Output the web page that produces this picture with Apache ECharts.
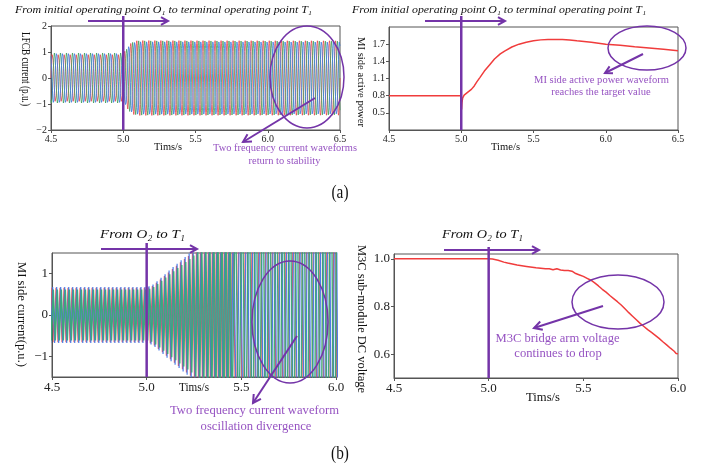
<!DOCTYPE html>
<html><head><meta charset="utf-8">
<script src="https://cdn.jsdelivr.net/npm/echarts@6/dist/echarts.min.js"></script>
<style>html,body{margin:0;padding:0;background:#fff}#c{width:705px;height:466px}</style>
</head><body><div id="c"></div>
<script>
// ---------------- DATA ----------------
const xTicksA = [4.5, 5.0, 5.5, 6.0, 6.5];
const xTicksB = [4.5, 5.0, 5.5, 6.0];
const yTicksLfcb = [-2, -1, 0, 1, 2];
const yTicksPower = [0.5, 0.8, 1.1, 1.4, 1.7];
const yTicksMi = [-1, 0, 1];
const yTicksM3c = [0.6, 0.8, 1.0];

// (a) left: LFCB three-phase current, peak envelope (p.u.) and frequency
const lfcbEnvT = [4.5, 5.0, 5.02, 5.04, 5.07, 5.10, 6.5];
const lfcbEnvA = [0.97, 0.97, 1.08, 1.28, 1.40, 1.44, 1.43];
const lfcbFreqHz = 24;
const lfcbPhaseDeg = [0, -120, 120];           // red, green, blue

// (a) right: MI side active power
const powerT = [4.5, 4.998, 5.0, 5.002, 5.005, 5.01, 5.02, 5.03, 5.05, 5.07, 5.09, 5.11, 5.13, 5.16, 5.2, 5.23, 5.27, 5.3, 5.35, 5.4, 5.45, 5.5, 5.55, 5.6, 5.65, 5.7, 5.75, 5.8, 5.9, 6.0, 6.1, 6.2, 6.3, 6.4, 6.5];
const powerV = [0.8, 0.8, 0.7, 0.56, 0.68, 0.76, 0.81, 0.84, 0.87, 0.91, 0.97, 1.05, 1.12, 1.23, 1.35, 1.44, 1.53, 1.58, 1.65, 1.70, 1.735, 1.76, 1.775, 1.782, 1.783, 1.78, 1.773, 1.76, 1.735, 1.70, 1.68, 1.655, 1.635, 1.61, 1.585];

// (b) left: MI side current, peak envelope (p.u.) and apparent sample spacing
const miEnvT = [4.5, 5.0, 5.03, 5.07, 5.12, 5.18, 5.24, 5.3, 5.45, 5.55, 6.0];
const miEnvA = [0.66, 0.66, 0.70, 0.85, 1.05, 1.28, 1.50, 1.8, 3.0, 5.0, 6.0];
const miStepT = [4.5, 5.45];
const miStepS = [0.0106, 0.018];
const miPhaseGain = [1.0, 1.03, 0.93];         // red, blue, green

// (b) right: M3C sub-module DC voltage
const m3cT = [4.5, 5.0, 5.02, 5.05, 5.08, 5.1, 5.15, 5.2, 5.25, 5.3, 5.31, 5.32, 5.33, 5.34, 5.35, 5.36, 5.37, 5.38, 5.39, 5.40, 5.41, 5.42, 5.43, 5.44, 5.45, 5.46, 5.47, 5.48, 5.49, 5.50, 5.51, 5.52, 5.53, 5.54, 5.55, 5.56, 5.57, 5.58, 5.59, 5.60, 5.61, 5.62, 5.63, 5.64, 5.65, 5.66, 5.67, 5.68, 5.69, 5.70, 5.71, 5.72, 5.73, 5.74, 5.75, 5.76, 5.77, 5.78, 5.79, 5.80, 5.81, 5.82, 5.83, 5.84, 5.85, 5.86, 5.87, 5.88, 5.89, 5.90, 5.91, 5.92, 5.93, 5.94, 5.95, 5.96, 5.97, 5.98, 5.99, 6.00];
const m3cV = [1.0, 1.0, 0.999, 0.994, 0.986, 0.982, 0.974, 0.968, 0.962, 0.958, 0.957, 0.958, 0.955, 0.954, 0.957, 0.958, 0.956, 0.953, 0.955, 0.951, 0.948, 0.951, 0.945, 0.948, 0.942, 0.938, 0.941, 0.932, 0.934, 0.926, 0.928, 0.918, 0.919, 0.910, 0.909, 0.899, 0.898, 0.886, 0.884, 0.872, 0.869, 0.860, 0.855, 0.846, 0.840, 0.833, 0.827, 0.820, 0.812, 0.806, 0.800, 0.790, 0.785, 0.774, 0.771, 0.759, 0.757, 0.744, 0.741, 0.729, 0.727, 0.716, 0.712, 0.703, 0.700, 0.691, 0.688, 0.679, 0.677, 0.666, 0.664, 0.652, 0.650, 0.639, 0.637, 0.625, 0.623, 0.612, 0.603, 0.602];

// ---------------- BUILD ----------------
function interp(ts, vs, t) {
  if (t <= ts[0]) return vs[0];
  for (let i = 1; i < ts.length; i++) {
    if (t <= ts[i]) return vs[i - 1] + (vs[i] - vs[i - 1]) * (t - ts[i - 1]) / (ts[i] - ts[i - 1]);
  }
  return vs[vs.length - 1];
}
function stepAt(t) { let s = miStepS[0]; for (let i = 0; i < miStepT.length; i++) if (t >= miStepT[i]) s = miStepS[i]; return s; }
function zip(a, b) { return a.map((v, i) => [v, b[i]]); }

function lfcbPhase(p) {
  const out = [], dt = 1 / (lfcbFreqHz * 16);
  for (let t = 4.5; t <= 6.5 + 1e-9; t += dt) {
    out.push([t, interp(lfcbEnvT, lfcbEnvA, t) * Math.sin(2 * Math.PI * lfcbFreqHz * t + lfcbPhaseDeg[p] * Math.PI / 180)]);
  }
  return out;
}
function miPhase(p) {
  const out = [];
  let t = 4.5 - stepAt(4.5) * (2 - p / 3), sign = 1;
  while (t < 6.05) {
    out.push([t, interp(miEnvT, miEnvA, t) * miPhaseGain[p] * sign]);
    t += stepAt(t); sign = -sign;
  }
  return out;
}

const SERIF = "'Liberation Serif', 'DejaVu Serif', serif";
const PURPLE = '#7434a8';
const TXTPURPLE = '#9653c2';
const AX = '#555';

function xAxisCfg(grid, max, fs) {
  return {
    type: 'value', gridIndex: grid, min: 4.5, max: max, interval: 0.5,
    axisLine: { show: true, onZero: false, lineStyle: { color: AX, width: 1 } },
    axisTick: { show: true, inside: false, length: 3, lineStyle: { color: AX } },
    axisLabel: { fontFamily: SERIF, fontSize: fs, color: '#222', margin: 4, formatter: v => v.toFixed(1) },
    splitLine: { show: false }
  };
}
function yAxisCfg(grid, min, max, ticks, fs, dec) {
  return {
    type: 'value', gridIndex: grid, min: min, max: max,
    axisLine: { show: true, onZero: false, lineStyle: { color: AX, width: 1 } },
    axisTick: { show: true, inside: false, length: 3, lineStyle: { color: AX }, customValues: ticks },
    axisLabel: { fontFamily: SERIF, fontSize: fs, color: '#222', margin: 4, customValues: ticks,
      formatter: v => v.toFixed(dec).replace('-', '\u2212') },
    splitLine: { show: false }
  };
}
function lineSeries(x, y, data, color, w, op) {
  return { type: 'line', xAxisIndex: x, yAxisIndex: y, data: data, showSymbol: false, symbol: 'none',
    animation: false, clip: true, lineStyle: { color: color, width: w, opacity: op }, z: 2 };
}

const chart = echarts.init(document.getElementById('c'), null, { renderer: 'canvas' });
const gridStyle = { show: true, borderColor: AX, borderWidth: 1, backgroundColor: 'transparent' };
chart.setOption({
  animation: false,
  backgroundColor: '#fff',
  grid: [
    Object.assign({ left: 51, top: 26, width: 289, height: 104 }, gridStyle),
    Object.assign({ left: 389, top: 27, width: 289, height: 103 }, gridStyle),
    Object.assign({ left: 52, top: 253, width: 284, height: 124 }, gridStyle),
    Object.assign({ left: 394, top: 254, width: 284, height: 124 }, gridStyle)
  ],
  xAxis: [
    xAxisCfg(0, xTicksA[xTicksA.length - 1], 10),
    xAxisCfg(1, xTicksA[xTicksA.length - 1], 10),
    xAxisCfg(2, xTicksB[xTicksB.length - 1], 13),
    xAxisCfg(3, xTicksB[xTicksB.length - 1], 13)
  ],
  yAxis: [
    yAxisCfg(0, -2, 2, yTicksLfcb, 10, 0),
    yAxisCfg(1, 0.2, 2.0, yTicksPower, 10, 1),
    yAxisCfg(2, -1.5, 1.5, yTicksMi, 13, 0),
    yAxisCfg(3, 0.5, 1.02, yTicksM3c, 13, 1)
  ],
  series: [
    lineSeries(0, 0, lfcbPhase(0), '#e8464b', 0.9, 0.9),
    lineSeries(0, 0, lfcbPhase(1), '#44a05c', 0.9, 0.9),
    lineSeries(0, 0, lfcbPhase(2), '#3b7be0', 0.9, 0.9),
    lineSeries(1, 1, zip(powerT, powerV), '#f03c3c', 1.5, 1),
    lineSeries(2, 2, miPhase(0), '#f04848', 1.2, 0.9),
    lineSeries(2, 2, miPhase(1), '#3d74e8', 1.2, 0.9),
    lineSeries(2, 2, miPhase(2), '#3aa878', 1.4, 0.95),
    lineSeries(3, 3, zip(m3cT, m3cV), '#f03c3c', 1.5, 1)
  ]
});

// ---------------- ANNOTATIONS ----------------
const mctx = document.createElement('canvas').getContext('2d');
function natWidth(text, style, fs) {
  mctx.font = style + ' ' + fs + 'px ' + SERIF;
  return mctx.measureText(text).width;
}
// text of font size fs; scaled along its direction to span 'len' px (or by factor sx)
function txt(str, cx, cy, fs, len, o) {
  o = o || {};
  const st = o.style || 'normal';
  const sx = o.sx || (len ? len / natWidth(str, st, fs) : 1);
  return { type: 'text', x: cx, y: cy, rotation: o.rot || 0, scaleX: sx, z: 100,
    style: { text: str, x: 0, y: 0, fontSize: fs, fontFamily: SERIF, fontStyle: st,
      fill: o.color || '#111', align: 'center', verticalAlign: 'middle', textAlign: 'center', textVerticalAlign: 'middle' } };
}
function arrow(x1, y1, x2, y2, w, h) {
  const a = Math.atan2(y2 - y1, x2 - x1), s = 0.5;
  return [
    { type: 'line', z: 100, shape: { x1: x1, y1: y1, x2: x2, y2: y2 }, style: { stroke: PURPLE, lineWidth: w } },
    { type: 'polyline', z: 100, shape: { points: [[x2 - h * Math.cos(a - s), y2 - h * Math.sin(a - s)], [x2, y2], [x2 - h * Math.cos(a + s), y2 - h * Math.sin(a + s)]] },
      style: { stroke: PURPLE, lineWidth: w, fill: null } }
  ];
}
function ell(cx, cy, rx, ry) {
  return { type: 'ellipse', z: 100, shape: { cx: cx, cy: cy, rx: rx, ry: ry }, style: { stroke: PURPLE, lineWidth: 1.5, fill: null } };
}
function vline(grid, yTop, yBot) {
  const x = chart.convertToPixel({ gridIndex: grid }, [5.0, 0])[0];
  return { type: 'line', z: 100, shape: { x1: x, y1: yTop, x2: x, y2: yBot }, style: { stroke: PURPLE, lineWidth: 2.5 } };
}
const ROT = -Math.PI / 2;
const els = [];
// titles
els.push(txt('From initial operating point O\u2081 to terminal operating point T\u2081', 163.5, 10, 11, 297, { style: 'italic' }));
els.push(txt('From initial operating point O\u2081 to terminal operating point T\u2081', 499, 10, 11, 294, { style: 'italic' }));
els.push(txt('From O\u2082 to T\u2081', 142.5, 235, 13, 85, { style: 'italic' }));
els.push(txt('From O\u2082 to T\u2081', 482.5, 235, 13, 81, { style: 'italic' }));
// title arrows + vertical lines
els.push(...arrow(88, 21, 168, 21, 2, 8));
els.push(...arrow(425, 21, 505, 21, 2, 8));
els.push(...arrow(101, 249, 197, 249, 2, 8));
els.push(...arrow(444, 250, 539, 250, 2, 8));
els.push(vline(0, 16, 130));
els.push(vline(1, 16, 130));
els.push(vline(2, 243, 377));
els.push(vline(3, 247, 378));
// axis names (rotated clockwise, reading top to bottom)
els.push(txt('LFCB current (p.u.)', 25, 69, 11.5, 74, { rot: ROT }));
els.push(txt('MI side active power', 361, 82, 11, 90, { rot: ROT }));
els.push(txt('MI side current(p.u.)', 22, 314.5, 13.5, 105, { rot: ROT }));
els.push(txt('M3C sub-module DC voltage', 361, 319, 13, 148, { rot: ROT }));
els.push(txt('Tims/s', 168, 147, 11, 28));
els.push(txt('Time/s', 505.5, 147, 11, 29));
els.push(txt('Tims/s', 194, 388, 12, 30));
els.push(txt('Tims/s', 543, 398, 12, 34));
// ellipses + arrows
els.push(ell(307, 77, 37, 51));
els.push(...arrow(315, 98, 243, 142, 2, 9));
els.push(ell(647, 48, 39, 22));
els.push(...arrow(643, 54, 605, 73, 2, 8));
els.push(ell(290, 322, 38, 61));
els.push(...arrow(297, 336, 253, 403, 2, 9));
els.push(ell(618, 302, 46, 27));
els.push(...arrow(603, 306, 534, 328, 2, 9));
// annotation texts
const sA1 = 144 / natWidth('Two frequency current waveforms', 'normal', 11);
els.push(txt('Two frequency current waveforms', 285, 148, 11, 0, { color: TXTPURPLE, sx: sA1 }));
els.push(txt('return to stability', 284.5, 161, 11, 0, { color: TXTPURPLE, sx: sA1 }));
const sA2 = 135 / natWidth('MI side active power waveform', 'normal', 11);
els.push(txt('MI side active power waveform', 601.5, 80, 11, 0, { color: TXTPURPLE, sx: sA2 }));
els.push(txt('reaches the target value', 601, 92, 11, 0, { color: TXTPURPLE, sx: sA2 }));
const sB1 = 169 / natWidth('Two frequency current waveform', 'normal', 13);
els.push(txt('Two frequency current waveform', 254.5, 411, 13, 0, { color: TXTPURPLE, sx: sB1 }));
els.push(txt('oscillation divergence', 256, 427, 13, 0, { color: TXTPURPLE, sx: sB1 }));
const sB2 = 124 / natWidth('M3C bridge arm voltage', 'normal', 13);
els.push(txt('M3C bridge arm voltage', 557.5, 339, 13, 0, { color: TXTPURPLE, sx: sB2 }));
els.push(txt('continues to drop', 558, 354, 13, 0, { color: TXTPURPLE, sx: sB2 }));
// panel labels
els.push(txt('(a)', 340, 193, 18, 0, { sx: 0.85 }));
els.push(txt('(b)', 340, 454, 18, 0, { sx: 0.85 }));

chart.setOption({ graphic: { elements: els } });
</script>
</body></html>
